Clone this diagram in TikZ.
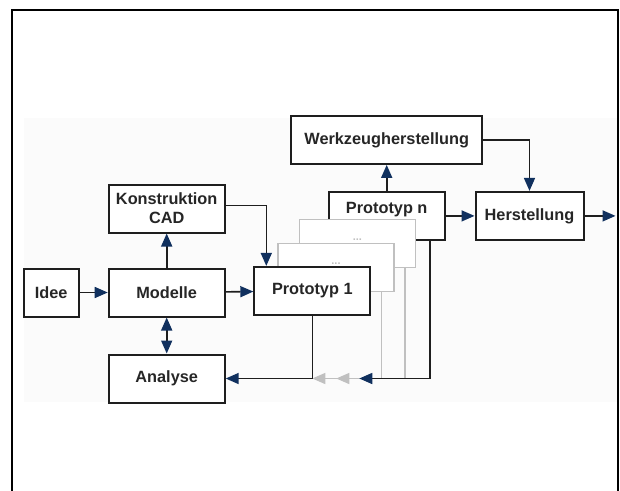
\documentclass[tikz,border=0pt]{standalone}
\usepackage{fontspec}
\setmainfont{Liberation Sans}
\usetikzlibrary{positioning,arrows.meta,calc}
\definecolor{flowblue}{RGB}{16,48,94}
\definecolor{ghostgray}{RGB}{192,192,192}
\definecolor{linegray}{RGB}{30,30,30}

\begin{document}
\begin{tikzpicture}[
  x=1pt, y=1pt,
  stage/.style={draw=linegray, line width=2pt, fill=white, minimum width=116pt, minimum height=48pt, inner sep=2pt, align=center, font=\fontsize{16.3}{19}\selectfont\bfseries, text=black!85},
  ghoststage/.style={stage, draw=ghostgray, line width=1.4pt},
  dotlabel/.style={font=\fontsize{11}{13}\selectfont\bfseries, text=ghostgray, inner sep=0pt},
  flow/.style={draw=linegray, line width=1.6pt, ->},
  ghostflow/.style={draw=ghostgray, line width=1.4pt, -{Triangle[length=13pt,width=11pt,color=ghostgray]}},
  >={Triangle[length=13pt,width=11pt,color=flowblue]}
]
% Frame and background
\useasboundingbox (0,0) rectangle (620,-490);
\fill[black!1.5] (24,-118) rectangle (617,-402);
\draw[line width=2pt] (12,-492) -- (12,-9.5) -- (618,-9.5) -- (618,-492);

% Main row
\node[stage] (modelle) at (166.7,-292.5) {Modelle};
\node[stage, minimum width=55pt, left=28pt of modelle] (idee) {Idee};
\node[stage, above=34pt of modelle] (konstr) {Konstruktion\\CAD};
\node[stage, below=36pt of modelle] (analyse) {Analyse};

% Prototype stack, back to front
\node[stage, text depth=17pt, above right=26.6pt and 102pt of modelle] (proton) {Prototyp n};
\node[ghoststage] (ghost3) at ([shift={(-29.3,-27.7)}]proton.center) {};
\node[dotlabel] (dots3) at ([yshift=4pt]ghost3.center) {...};
\node[ghoststage] (ghost2) at ([shift={(-21.4,-24)}]ghost3.center) {};
\node[dotlabel] (dots2) at ([yshift=4pt]ghost2.center) {...};
\node[stage] (proto1) at ([shift={(-23.7,-23.3)}]ghost2.center) {Prototyp 1};

% Tooling and production
\node[stage, minimum width=191pt, above=26pt of proton] (werkzeug) {Werkzeugherstellung};
\node[stage, minimum width=108pt, right=28.8pt of proton] (herst) {Herstellung};
\coordinate[right=31pt of herst] (ende);

% Edges
\draw[flow] (idee) -- (modelle);
\draw[flow] (modelle) -- (proto1);
\draw[flow] (modelle) -- (konstr);
\draw[flow, <->] (modelle) -- (analyse);
\draw[flow] ([yshift=3pt]konstr.east) -| ([xshift=13pt]proto1.north west);
\draw[flow] (proton) -- (werkzeug);
\draw[flow] (werkzeug.east) -| (herst.north);
\draw[flow] (proton) -- (herst);
\draw[flow] (herst) -- (ende);

% Feedback to Analyse
\coordinate (ret) at (proto1.south |- analyse.east);
\draw[ghostflow] ([xshift=-13pt]ghost2.south east) |- (ret);
\draw[ghostflow] ([xshift=-11pt]ghost3.south east) |- ($(ret)+(24,0)$);
\draw[flow] ([xshift=-15.5pt]proton.south east) |- ($(ret)+(47,0)$);
\draw[flow] (proto1) -- (ret) -- (analyse);

\end{tikzpicture}
\end{document}
